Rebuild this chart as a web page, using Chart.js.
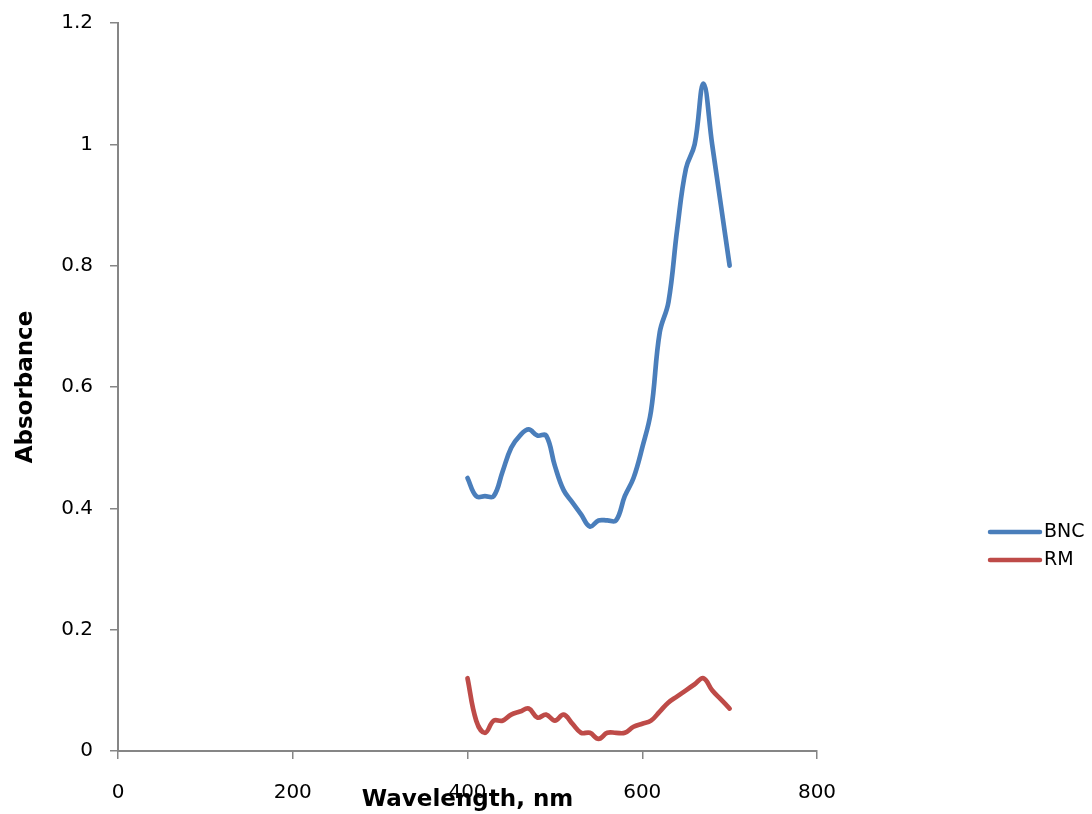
<!DOCTYPE html>
<html>
<head>
<meta charset="utf-8">
<script src="https://cdn.jsdelivr.net/npm/chart.js@4/dist/chart.umd.min.js"></script>
<style>
html,body{margin:0;padding:0;background:#fff;}
#wrap{width:1092px;height:814px;}
</style>
</head>
<body>
<div id="wrap"><canvas id="c" width="1092" height="814"></canvas></div>
<script>
const wavelengths = [400,410,420,430,440,450,460,470,480,490,500,510,520,530,540,550,560,570,580,590,600,610,620,630,640,650,660,670,680,690,700];
const bncValues = [0.45,0.42,0.42,0.42,0.46,0.50,0.52,0.53,0.52,0.52,0.47,0.43,0.41,0.39,0.37,0.38,0.38,0.38,0.42,0.45,0.50,0.56,0.69,0.74,0.86,0.96,1.00,1.10,1.00,0.90,0.80];
const rmValues = [0.12,0.05,0.03,0.05,0.05,0.06,0.065,0.07,0.055,0.06,0.05,0.06,0.045,0.03,0.03,0.02,0.03,0.03,0.03,0.04,0.045,0.05,0.065,0.08,0.09,0.10,0.11,0.12,0.10,0.085,0.07];
const seriesNames = ['BNC','RM'];
const xTickValues = [0,200,400,600,800];
const yTickValues = [0,0.2,0.4,0.6,0.8,1,1.2];

const FONT = '"DejaVu Sans", sans-serif';
const AXIS = '#868686';
const COLORS = ['#4A7EBB','#BE4B48'];

const legendPlugin = {
  id: 'sideLegend',
  afterDraw(chart) {
    const ctx = chart.ctx;
    ctx.save();
    chart.data.datasets.forEach((ds, i) => {
      const y = 532 + i * 28;
      ctx.strokeStyle = ds.borderColor;
      ctx.lineWidth = 4.5;
      ctx.lineCap = 'round';
      ctx.beginPath();
      ctx.moveTo(990, y);
      ctx.lineTo(1040, y);
      ctx.stroke();
      ctx.fillStyle = '#000';
      ctx.font = '19px ' + FONT;
      ctx.textBaseline = 'middle';
      ctx.textAlign = 'left';
      ctx.fillText(ds.label, 1044, y);
    });
    ctx.restore();
  }
};

new Chart(document.getElementById('c'), {
  type: 'line',
  data: {
    datasets: [
      { label: seriesNames[0], data: wavelengths.map((w,i)=>({x:w,y:bncValues[i]})), borderColor: COLORS[0], backgroundColor: COLORS[0], borderWidth: 4.7, pointRadius: 0, tension: 0.4, fill: false, borderCapStyle: 'round', borderJoinStyle: 'round' },
      { label: seriesNames[1], data: wavelengths.map((w,i)=>({x:w,y:rmValues[i]})), borderColor: COLORS[1], backgroundColor: COLORS[1], borderWidth: 4.7, pointRadius: 0, tension: 0.4, fill: false, borderCapStyle: 'round', borderJoinStyle: 'round' }
    ]
  },
  options: {
    responsive: false,
    animation: false,
    events: [],
    layout: { padding: { top: 23, right: 275, left: 0, bottom: 0 } },
    plugins: { legend: { display: false }, tooltip: { enabled: false } },
    scales: {
      x: {
        type: 'linear',
        min: 0, max: 800,
        afterBuildTicks(scale){ scale.ticks = xTickValues.map(v=>({value:v})); },
        afterFit(scale){ scale.height = 63; scale.paddingLeft = 0; scale.paddingRight = 0; },
        grid: { drawOnChartArea: false, drawTicks: true, tickLength: 8, color: AXIS, lineWidth: 1.5 },
        border: { display: true, color: AXIS, width: 2 },
        ticks: { color: '#000', font: { family: FONT, size: 20 }, padding: 22, maxRotation: 0 },
        title: { display: true, text: 'Wavelength, nm', color: '#000', font: { family: FONT, size: 23, weight: 'bold' }, padding: { top: 0, bottom: 0 } }
      },
      y: {
        type: 'linear',
        min: 0, max: 1.2,
        afterBuildTicks(scale){ scale.ticks = yTickValues.map(v=>({value:v})); },
        afterFit(scale){ scale.width = 118; scale.paddingTop = 0; scale.paddingBottom = 0; },
        grid: { drawOnChartArea: false, drawTicks: true, tickLength: 8, color: AXIS, lineWidth: 1.5 },
        border: { display: true, color: AXIS, width: 2 },
        ticks: { color: '#000', font: { family: FONT, size: 20 }, padding: 17, callback: v => String(Math.round(v*10)/10) },
        title: { display: true, text: 'Absorbance', color: '#000', font: { family: FONT, size: 23, weight: 'bold' }, padding: { top: 12, bottom: 0 } }
      }
    }
  },
  plugins: [legendPlugin]
});
</script>
</body>
</html>
